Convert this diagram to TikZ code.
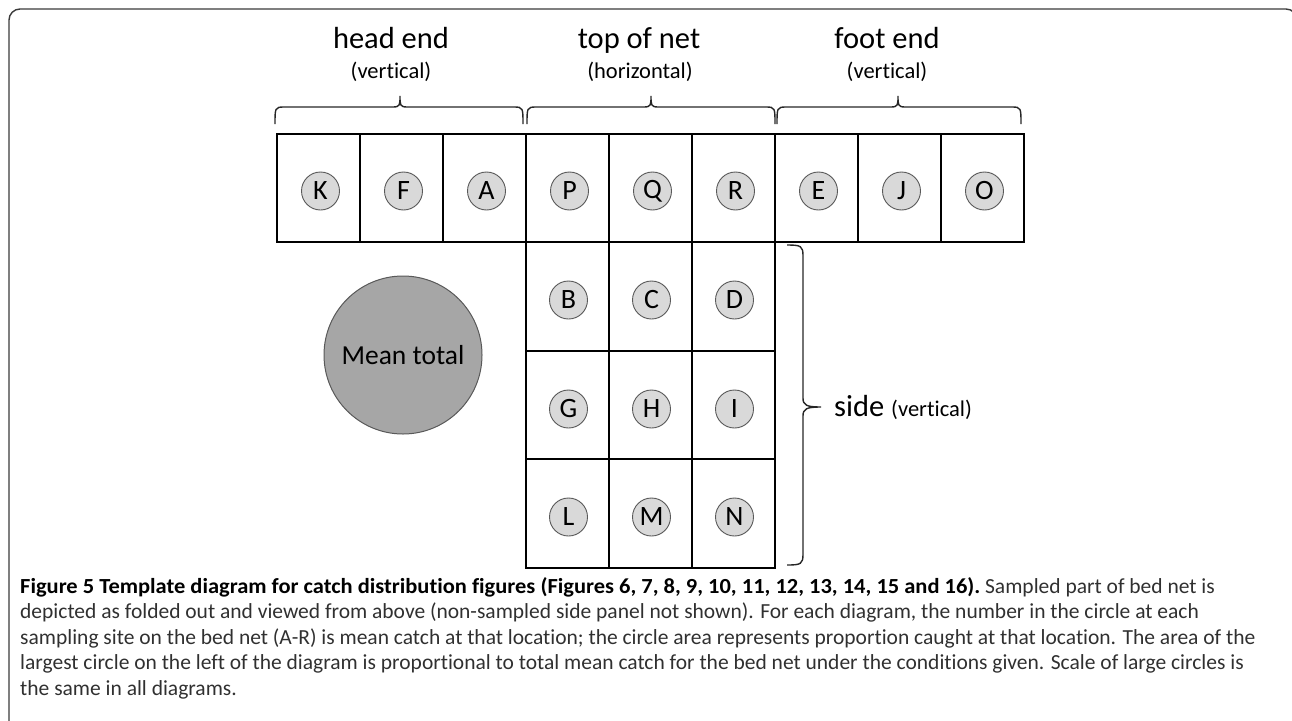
\documentclass[tikz,border=0pt]{standalone}
\usepackage{fontspec}
\usepackage{graphicx}
\setmainfont{Carlito}[Ligatures=NoCommon]
\definecolor{framec}{HTML}{3A3A3A}
\definecolor{smallfill}{HTML}{D9D9D9}
\definecolor{bigfill}{HTML}{A6A6A6}
\definecolor{captc}{HTML}{303030}
\begin{document}
\begin{tikzpicture}[x=1pt,y=-1pt,
  cellbox/.style={draw=black, line width=2.4pt, minimum width=83pt, minimum height=108.5pt, inner sep=0pt},
  dot/.style={circle, draw=black!65, line width=0.9pt, fill=smallfill, minimum size=38pt, inner sep=0pt, font=\fontsize{28}{28}\selectfont},
  bracec/.style={draw=black!85, line width=1.4pt},
  biglab/.style={font=\fontsize{30.5}{30}\selectfont, anchor=base},
  smalllab/.style={font=\fontsize{22.5}{22.5}\selectfont, anchor=base},
  capline/.style={anchor=base west, inner sep=0pt, text=captc, font=\fontsize{21.5}{24}\selectfont}
]
\useasboundingbox (0,0) rectangle (1292,720);
% frame
\draw[framec, line width=1.4pt, rounded corners=11pt] (9,740) -- (9,9) -- (1297,9) -- (1297,740);

% top row
\foreach \L [count=\i from 0] in {K,F,A,P,Q,R,E,J,O} {
  \node[cellbox] (c\L) at ({277+83*\i+41.5},188) {};
  \node[dot] (d\L) at ({277+83*\i+41.5+2},191) {\L};
}
% lower grid
\foreach \L [count=\i from 0] in {B,C,D} {
  \node[cellbox] (c\L) at ({526+83*\i+41.5},296.5) {};
  \node[dot] (d\L) at ({526+83*\i+41.5+1},300) {\L};
}
\foreach \L [count=\i from 0] in {G,H,I} {
  \node[cellbox] (c\L) at ({526+83*\i+41.5},405) {};
  \node[dot] (d\L) at ({526+83*\i+41.5+1},409) {\L};
}
\foreach \L [count=\i from 0] in {L,M,N} {
  \node[cellbox] (c\L) at ({526+83*\i+41.5},513.5) {};
  \node[dot] (d\L) at ({526+83*\i+41.5+1},517) {\L};
}

% mean total circle
\node[circle, draw=black!65, line width=1pt, fill=bigfill, minimum size=158pt, inner sep=0pt,
  font=\fontsize{27.5}{27}\selectfont] (mean) at (403,355) {Mean total};

% top braces
\foreach \xa/\xm/\xb/\nm in {275/400/523/bh, 527/651/775/bt, 777/898/1021/bf} {
  \draw[bracec] (\xa,124) .. controls (\xa,108) and (\xa,107) .. ({\xa+9},107)
     -- ({\xm-7},107) .. controls (\xm,107) and (\xm,105) .. (\xm,96)
     .. controls (\xm,105) and (\xm,107) .. ({\xm+7},107)
     -- ({\xb-9},107) .. controls (\xb,107) and (\xb,108) .. (\xb,124);
  \coordinate (\nm) at (\xm,96);
}
\node[biglab] (lhead) at (391,48) {head end};
\node[smalllab] (lheadv) at (391,78) {(vertical)};
\node[biglab] (ltop) at (639,48) {top of net};
\node[smalllab] (ltopv) at (640,78) {(horizontal)};
\node[biglab] (lfoot) at (887,48) {foot end};
\node[smalllab] (lfootv) at (887,78) {(vertical)};

% side brace
\draw[bracec] (787,245) .. controls (801,245) and (803,246) .. (803,256)
   -- (803,398) .. controls (803,405) and (806,407) .. (821,407)
   .. controls (806,407) and (803,409) .. (803,416)
   -- (803,554) .. controls (803,564) and (801,565) .. (787,565);
\coordinate (bs) at (821,407);
\node[anchor=base west, inner sep=0pt] (lside) at (834,416) {\fontsize{30.5}{30}\selectfont side \fontsize{22.5}{22.5}\selectfont(vertical)};

% caption
\node[capline] (cap1) at (20,593) {\textcolor{black}{\scalebox{1.045}[1]{\bfseries Figure 5 Template diagram for catch distribution figures (Figures 6, 7, 8, 9, 10, 11, 12, 13, 14, 15 and 16).}} Sampled part of bed net is};
\node[capline] (cap2) at (20,618.5) {depicted as folded out and viewed from above (non-sampled side panel not shown). For each diagram, the number in the circle at each};
\node[capline] (cap3) at (20,644) {sampling site on the bed net (A-R) is mean catch at that location; the circle area represents proportion caught at that location. The area of the};
\node[capline] (cap4) at (20,669.5) {largest circle on the left of the diagram is proportional to total mean catch for the bed net under the conditions given. Scale of large circles is};
\node[capline] (cap5) at (20,695) {the same in all diagrams.};
\end{tikzpicture}
\end{document}
